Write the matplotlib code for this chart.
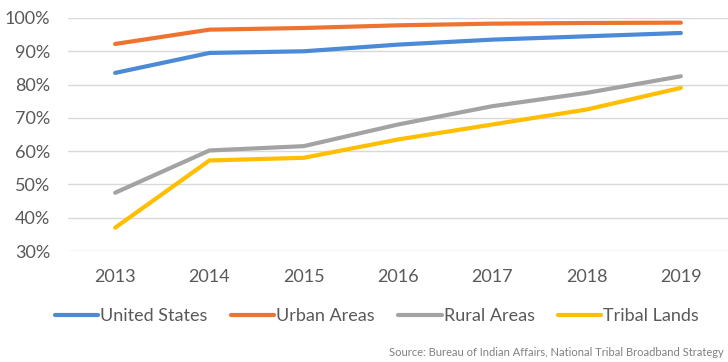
import matplotlib.pyplot as plt

plt.rcParams['font.family'] = ['Lato', 'DejaVu Sans']

years = ["2013", "2014", "2015", "2016", "2017", "2018", "2019"]
united_states = [83.5, 89.5, 90.0, 92.0, 93.5, 94.5, 95.5]
urban_areas = [92.2, 96.5, 97.0, 97.8, 98.3, 98.5, 98.6]
rural_areas = [47.5, 60.2, 61.5, 68.0, 73.5, 77.5, 82.5]
tribal_lands = [37.0, 57.2, 58.0, 63.5, 68.0, 72.5, 79.0]
series_names = ["United States", "Urban Areas", "Rural Areas", "Tribal Lands"]
yticks = [30, 40, 50, 60, 70, 80, 90, 100]

colors = ["#4A8AD6", "#EE7330", "#A3A3A3", "#FFBE00"]
txt = "#595959"

fig = plt.figure(figsize=(7.28, 3.62), dpi=100)
ax = fig.add_axes([68/728, 1-251/362, 660/728, 233/362])

x = range(len(years))
for vals, name, c in zip([united_states, urban_areas, rural_areas, tribal_lands], series_names, colors):
    ax.plot(x, vals, color=c, lw=3, label=name, solid_capstyle='round')

ax.set_xlim(-0.5, 6.5)
ax.set_ylim(30, 100)
ax.set_yticks(yticks)
ax.set_yticklabels([str(t) + "%" for t in yticks])
ax.set_xticks(list(x))
ax.set_xticklabels(years)
ax.tick_params(length=0, labelsize=13, colors=txt)
ax.tick_params(axis='x', pad=13)
ax.tick_params(axis='y', pad=13)
ax.grid(axis='y', color="#D9D9D9", lw=1)
ax.set_axisbelow(True)
for s in ax.spines.values():
    s.set_visible(False)

fig.legend(loc='center', bbox_to_anchor=(377/728, 1-316/362), ncol=4, frameon=False,
           fontsize=13, labelcolor=txt, handlelength=2.4, handletextpad=0.1,
           columnspacing=1.3)

# source line: the reference crops it at the right edge, here it is kept whole
fig.text(724/728, 1-352/362, "Source: Bureau of Indian Affairs, National Tribal Broadband Strategy",
         fontsize=8, color="#808080", va='center', ha='right')

fig.savefig("out.png", dpi=100)
